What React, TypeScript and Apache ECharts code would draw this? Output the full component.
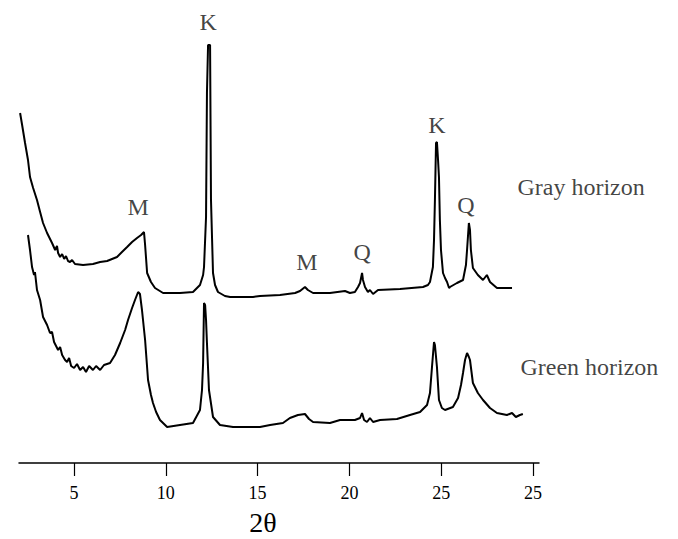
import React, { useEffect, useRef } from "react";
import * as echarts from "echarts";

// x-axis tick values and their printed labels (the reference prints "25" twice)
const tickValues = [5, 10, 15, 20, 25, 30];
const tickLabels = ["5", "10", "15", "20", "25", "25"];

// Gray horizon trace (2θ axis units, relative intensity)
const grayX = [
  2.06, 2.17, 2.33, 2.49, 2.6, 2.77, 2.98, 3.15, 3.31, 3.53, 3.8, 3.97, 4.07, 4.13, 4.24, 4.35, 4.46, 4.56, 4.67,
  4.78, 4.89, 5.05, 5.49, 6.03, 6.42, 6.8, 7.07, 7.34, 7.61, 7.89, 8.16, 8.43, 8.65, 8.81, 8.87, 8.98, 9.19,
  9.41, 9.85, 10.77, 11.48, 11.86, 12.03, 12.08, 12.19, 12.24, 12.3, 12.41, 12.46, 12.52, 12.57, 12.68, 12.84,
  13.22, 13.5, 14.75, 15.13, 16.22, 17.04, 17.31, 17.58, 17.74, 18.02, 18.94, 19.76, 20.03, 20.3, 20.47, 20.58,
  20.69, 20.74, 20.85, 21.01, 21.12, 21.29, 21.56, 22.76, 24.01, 24.28, 24.39, 24.55, 24.61, 24.66, 24.72, 24.77,
  24.83, 24.88, 24.93, 24.99, 25.1, 25.21, 25.32, 25.43, 25.48, 25.86, 26.19, 26.35, 26.41, 26.51, 26.57, 26.62,
  26.73, 27.0, 27.28, 27.49, 27.66, 28.04, 28.86,
];
const grayY = [
  350, 338, 320, 303, 286, 275, 263, 251, 240, 230, 220, 213, 217, 210, 206, 209, 204, 207, 202,
  201, 203, 199, 198, 199, 201, 202, 204, 206, 211, 216, 221, 225, 228, 231, 218, 190, 181,
  175, 170, 170, 171, 178, 188, 196, 246, 370, 418, 418, 263, 223, 190, 178, 171,
  167, 166, 166, 167, 168, 170, 172, 176, 173, 170, 170, 172, 170, 171, 176, 180,
  190, 183, 176, 171, 173, 169, 173, 174, 176, 178, 181, 196, 223, 263, 320, 321,
  303, 286, 243, 213, 190, 185, 181, 175, 176, 180, 183, 198, 213, 240, 233, 213,
  195, 188, 183, 188, 181, 175, 175,
];

// Green horizon trace
const greenX = [
  2.49, 2.6, 2.71, 2.82, 2.87, 2.98, 3.15, 3.31, 3.53, 3.69, 3.8, 3.91, 4.13, 4.24, 4.35, 4.51, 4.62, 4.73, 4.84,
  5.0, 5.16, 5.33, 5.49, 5.65, 5.82, 6.03, 6.2, 6.42, 6.63, 6.96, 7.23, 7.51, 7.78, 7.94, 8.16, 8.32, 8.49, 8.59,
  8.7, 8.87, 9.03, 9.19, 9.3, 9.47, 9.68, 10.07, 10.77, 11.48, 11.86, 11.97, 12.03, 12.08, 12.14, 12.19, 12.24,
  12.35, 12.57, 12.95, 13.66, 15.13, 15.68, 16.38, 16.76, 17.2, 17.58, 17.8, 18.02, 18.94, 19.49, 20.3, 20.58,
  20.69, 20.8, 20.96, 21.12, 21.29, 21.67, 22.59, 23.3, 23.85, 24.23, 24.39, 24.5, 24.61, 24.66, 24.77, 24.88,
  25.04, 25.21, 25.64, 25.92, 26.08, 26.19, 26.3, 26.41, 26.51, 26.57, 26.73, 27.0, 27.28, 27.66, 28.04, 28.58,
  28.86, 29.07, 29.29, 29.45,
];
const greenY = [
  228, 213, 196, 188, 191, 173, 163, 146, 138, 130, 131, 121, 113, 116, 108, 103, 101, 105, 97,
  95, 99, 93, 96, 91, 97, 93, 97, 93, 98, 100, 108, 120, 133, 143, 155, 163, 171, 169,
  153, 123, 83, 68, 60, 51, 43, 36, 38, 40, 53, 73, 100, 160, 158, 143, 120,
  73, 46, 38, 36, 36, 38, 40, 45, 48, 49, 44, 41, 40, 43, 43, 45,
  50, 43, 41, 45, 41, 43, 44, 48, 51, 58, 70, 96, 121, 118, 96, 63,
  55, 53, 56, 65, 78, 90, 103, 110, 106, 103, 80, 70, 63, 55, 50, 48,
  50, 46, 48, 49,
];

// Peak annotations and trace names
const peakText = ["K", "K", "Q", "Q", "M", "M"];
const peakX = [12.3, 24.77, 26.35, 20.69, 8.49, 17.69];
const peakY = [441, 338, 258, 211, 256, 201];
const traceNames = ["Gray horizon", "Green horizon"];
const traceNameX = [29.13, 29.29];
const traceNameY = [276, 96];

const axisTitle = "2θ";

const SERIF = "Liberation Serif";

export default function App() {
  const ref = useRef<HTMLDivElement>(null);

  useEffect(() => {
    if (!ref.current) return;
    const chart = echarts.init(ref.current, undefined, { renderer: "svg" });

    const gray = grayX.map((x, i) => [x, grayY[i]]);
    const green = greenX.map((x, i) => [x, greenY[i]]);
    const peaks = peakX.map((x, i) => ({ value: [x, peakY[i]], name: peakText[i] }));
    const names = traceNameX.map((x, i) => ({ value: [x, traceNameY[i]], name: traceNames[i] }));

    chart.setOption({
      animation: false,
      backgroundColor: "#ffffff",
      grid: { left: 19, right: 139, top: 0, bottom: 76 },
      xAxis: {
        type: "value",
        min: 2,
        max: 30.33,
        splitLine: { show: false },
        axisLine: { show: true, onZero: false, lineStyle: { color: "#000", width: 1.5 } },
        axisTick: {
          show: true,
          inside: false,
          length: 13,
          customValues: tickValues,
          lineStyle: { color: "#000", width: 1.2 },
        },
        axisLabel: {
          show: true,
          customValues: tickValues,
          margin: 21,
          color: "#000",
          fontFamily: SERIF,
          fontSize: 18,
          formatter: (v: number) => {
            const idx = tickValues.findIndex((t) => Math.abs(t - v) < 1e-6);
            return idx >= 0 ? tickLabels[idx] : "";
          },
        },
      },
      yAxis: {
        type: "value",
        min: 0,
        max: 463,
        show: false,
        splitLine: { show: false },
      },
      series: [
        {
          name: traceNames[0],
          type: "line",
          data: gray,
          showSymbol: false,
          symbol: "none",
          lineStyle: { color: "#000", width: 2 },
          z: 3,
        },
        {
          name: traceNames[1],
          type: "line",
          data: green,
          showSymbol: false,
          symbol: "none",
          lineStyle: { color: "#000", width: 2 },
          z: 3,
        },
        {
          name: "peaks",
          type: "scatter",
          data: peaks,
          symbolSize: 1,
          itemStyle: { color: "rgba(0,0,0,0)" },
          label: {
            show: true,
            position: "inside",
            formatter: (p: any) => p.name,
            color: "#111",
            fontFamily: SERIF,
            fontSize: 24,
          },
          silent: true,
        },
        {
          name: "traceNames",
          type: "scatter",
          data: names,
          symbolSize: 1,
          itemStyle: { color: "rgba(0,0,0,0)" },
          label: {
            show: true,
            position: "right",
            distance: 0,
            formatter: (p: any) => p.name,
            color: "#111",
            fontFamily: SERIF,
            fontSize: 24,
          },
          silent: true,
        },
      ],
      graphic: [
        {
          type: "text",
          x: 263,
          y: 522,
          style: {
            text: axisTitle,
            fill: "#000",
            font: `28px "${SERIF}"`,
            align: "center",
            verticalAlign: "middle",
          },
        },
      ],
    });

    return () => chart.dispose();
  }, []);

  return (
    <div
      ref={ref}
      style={{ position: "absolute", left: 0, top: 0, width: 678, height: 539, background: "#fff" }}
    />
  );
}
